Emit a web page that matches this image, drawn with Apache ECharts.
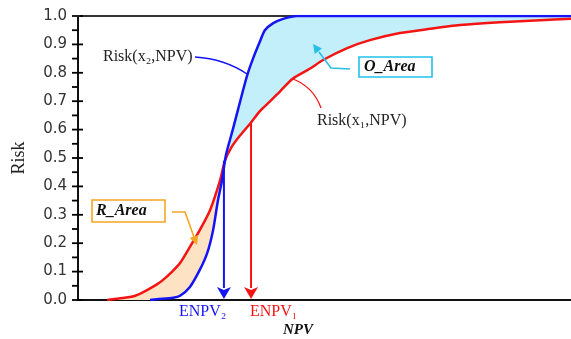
<!DOCTYPE html>
<html><head><meta charset="utf-8">
<script src="https://cdn.jsdelivr.net/npm/echarts@6/dist/echarts.min.js"></script>
<style>html,body{margin:0;padding:0;background:#fff}#c{width:571px;height:339px}</style>
</head><body><div id="c"></div>
<script>
// Risk(x1,NPV) - red curve
const npvRed  = [5.9, 9.1, 11.6, 14.0, 16.0, 17.2, 19.1, 20.7, 22.7, 24.7, 26.8, 28.8, 29.8, 31.2, 32.9, 35.1, 36.9, 39.0, 41.0, 43.6, 47.1, 49.7, 54.6, 59.2, 65.3, 71.4, 77.5, 85.6, 93.7, 100];
const riskRed = [0, 0.007, 0.015, 0.035, 0.055, 0.07, 0.1, 0.13, 0.187, 0.246, 0.317, 0.42, 0.49, 0.54, 0.58, 0.625, 0.665, 0.70, 0.735, 0.78, 0.815, 0.845, 0.887, 0.915, 0.94, 0.955, 0.968, 0.978, 0.985, 0.99];
// Risk(x2,NPV) - blue curve
const npvBlue  = [14.6, 16.0, 19.3, 20.7, 22.7, 24.7, 26.2, 27.4, 28.4, 29.2, 30.0, 31.4, 32.9, 34.3, 35.5, 36.9, 37.9, 39.6, 41.6, 44.4, 100];
const riskBlue = [0, 0.003, 0.008, 0.015, 0.046, 0.106, 0.165, 0.246, 0.352, 0.42, 0.51, 0.6, 0.7, 0.79, 0.85, 0.91, 0.95, 0.975, 0.99, 1.0, 1.0];
// crossing point of the two curves
const crossing = [29.8, 0.49];
// expected NPV arrows: [npv, risk at top]
const enpvNames = ['ENPV₂', 'ENPV₁'];
const enpvNpv  = [29.6, 35.1];
const enpvRisk = [0.49, 0.625];
const yMin = 0, yMax = 1, yStep = 0.1;
// y-axis tick positions (major, minor)
const yMajorTicks = [0, 0.1, 0.2, 0.3, 0.4, 0.5, 0.6, 0.7, 0.8, 0.9, 1.0];
const yMinorTicks = [0.05, 0.15, 0.25, 0.35, 0.45, 0.55, 0.65, 0.75, 0.85, 0.95];

const red = npvRed.map((x, i) => [x, riskRed[i]]);
const blue = npvBlue.map((x, i) => [x, riskBlue[i]]);
const BLUE = '#1414f5', RED = '#f51414';

function fillItem(params, api) {
  let pts;
  if (params.dataIndex === 0) {
    const r = red.filter(p => p[0] < crossing[0]);
    const b = blue.filter(p => p[0] < crossing[0]).reverse();
    pts = r.concat([crossing], b);
  } else {
    const b = blue.filter(p => p[0] > crossing[0]);
    const r = red.filter(p => p[0] > crossing[0]).reverse();
    pts = [crossing].concat(b, r);
  }
  return {type: 'polygon', silent: true,
    shape: {points: pts.map(p => api.coord(p))},
    style: {fill: params.dataIndex === 0 ? '#fde3c3' : '#c3effa'}};
}
function arrowItem(params, api) {
  const top = api.coord([api.value(0), api.value(1)]);
  const bot = api.coord([api.value(0), 0]);
  const color = params.dataIndex === 0 ? BLUE : RED;
  const hw = 7, hh = 13;
  return {type: 'group', children: [
    {type: 'line', shape: {x1: top[0], y1: top[1], x2: bot[0], y2: bot[1] - hh + 1}, style: {stroke: color, lineWidth: 2}},
    {type: 'polygon', shape: {points: [[bot[0] - hw, bot[1] - hh], [bot[0], bot[1] - hh + 3], [bot[0] + hw, bot[1] - hh], [bot[0], bot[1] - 1]]}, style: {fill: color}}
  ]};
}
function tickItem(params, api) {
  const p = api.coord([0, api.value(1)]);
  const major = api.value(2) === 1;
  return {type: 'line', silent: true,
    shape: {x1: p[0] - 6, y1: p[1], x2: major ? p[0] + 5 : p[0], y2: p[1]},
    style: {stroke: '#000', lineWidth: 1.8}};
}

const serif = '"Liberation Serif", "Times New Roman", serif';
const hiddenSplit = {show: true, lineStyle: {opacity: 0}};
const tickData = yMajorTicks.map(v => [0, v, 1]).concat(yMinorTicks.map(v => [0, v, 0]));
const chart = echarts.init(document.getElementById('c'));
chart.setOption({
  animation: false,
  backgroundColor: '#fff',
  grid: {left: 78, right: -3, top: 16, bottom: 39},
  xAxis: [
    {type: 'value', min: 0, max: 100, axisLine: {lineStyle: {color: '#111', width: 2}}, axisTick: {show: false}, axisLabel: {show: false}, splitLine: hiddenSplit},
    {type: 'value', position: 'top', min: 0, max: 100, axisLine: {lineStyle: {color: '#333', width: 2}}, axisTick: {show: false}, axisLabel: {show: false}, splitLine: hiddenSplit}
  ],
  yAxis: [
    {type: 'value', min: yMin, max: yMax, interval: yStep, position: 'left',
      name: 'Risk', nameLocation: 'middle', nameGap: 50,
      nameTextStyle: {fontFamily: serif, fontSize: 18, color: '#222'},
      axisLine: {show: true, lineStyle: {color: '#111', width: 2}},
      axisTick: {show: false},
      axisLabel: {margin: 11, fontFamily: '"DejaVu Sans", sans-serif', fontSize: 15, color: '#333', formatter: v => v.toFixed(1)},
      splitLine: hiddenSplit}
  ],
  series: [
    {type: 'custom', renderItem: fillItem, data: [crossing, crossing], z: 1, silent: true},
    {type: 'line', data: red, symbol: 'none', smooth: 0.25, lineStyle: {color: RED, width: 2.5}, z: 3},
    {type: 'line', data: blue, symbol: 'none', smooth: 0.25, lineStyle: {color: BLUE, width: 2.5}, z: 3},
    {type: 'custom', renderItem: arrowItem, data: enpvNpv.map((x, i) => [x, enpvRisk[i]]), z: 4, silent: true},
    {type: 'custom', renderItem: tickItem, data: tickData, clip: false, z: 5, silent: true}
  ],
  graphic: [
    {type: 'line', z: 30, shape: {x1: 72, y1: 16, x2: 80, y2: 16}, style: {stroke: '#222', lineWidth: 2}},
    {type: 'text', x: 103, y: 57, style: {text: 'Risk(x₂,NPV)', font: '16px ' + serif, fill: '#222', verticalAlign: 'middle'}},
    {type: 'bezierCurve', shape: {x1: 195, y1: 57, x2: 247, y2: 74, cpx1: 225, cpy1: 59}, style: {stroke: BLUE, lineWidth: 1.3, fill: null}},
    {type: 'text', x: 317, y: 121, style: {text: 'Risk(x₁,NPV)', font: '16px ' + serif, fill: '#222', verticalAlign: 'middle'}},
    {type: 'bezierCurve', shape: {x1: 321, y1: 108, x2: 293, y2: 79, cpx1: 313.5, cpy1: 87}, style: {stroke: RED, lineWidth: 1.3, fill: null}},
    {type: 'rect', shape: {x: 359, y: 57, width: 73, height: 20}, style: {stroke: '#22c2ec', lineWidth: 1.6, fill: '#fff'}, z: 20},
    {type: 'text', x: 364, y: 67, z: 21, style: {text: 'O_Area', font: 'italic bold 16px ' + serif, fill: '#111', verticalAlign: 'middle'}},
    {type: 'polyline', z: 20, shape: {points: [[350, 69], [331, 68], [319, 52]]}, style: {stroke: '#28bee6', lineWidth: 1.6, fill: null}},
    {type: 'polygon', z: 20, shape: {points: [[313, 44], [322, 48.5], [314.8, 53.9]]}, style: {fill: '#28bee6'}},
    {type: 'rect', shape: {x: 92, y: 200, width: 73, height: 22}, style: {stroke: '#f5a623', lineWidth: 1.6, fill: '#fff'}, z: 20},
    {type: 'text', x: 96, y: 211, z: 21, style: {text: 'R_Area', font: 'italic bold 16px ' + serif, fill: '#111', verticalAlign: 'middle'}},
    {type: 'polyline', z: 20, shape: {points: [[172, 212], [185, 212], [194, 237]]}, style: {stroke: '#f5a623', lineWidth: 1.6, fill: null}},
    {type: 'polygon', z: 20, shape: {points: [[197, 245], [198.1, 235], [189.7, 238]]}, style: {fill: '#f5a623'}},
    {type: 'text', x: 179, y: 312, style: {text: enpvNames[0], font: '16px ' + serif, fill: BLUE, verticalAlign: 'middle'}},
    {type: 'text', x: 250, y: 312, style: {text: enpvNames[1], font: '16px ' + serif, fill: RED, verticalAlign: 'middle'}},
    {type: 'text', x: 283, y: 330, style: {text: 'NPV', font: 'italic bold 15px ' + serif, fill: '#111', verticalAlign: 'middle'}}
  ]
});
</script></body></html>
